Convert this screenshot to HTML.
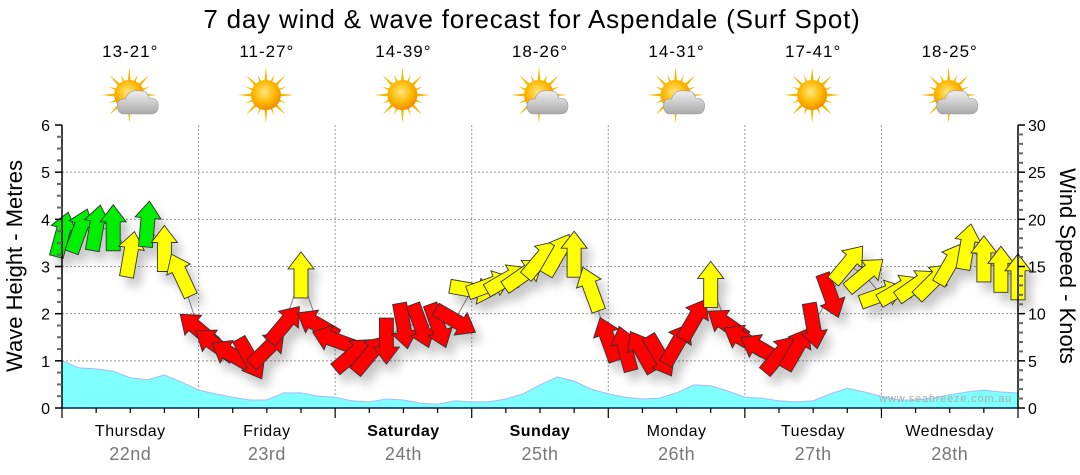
<!DOCTYPE html>
<html><head><meta charset="utf-8"><style>
html,body{margin:0;padding:0;background:#fff;}
svg{display:block;font-family:"Liberation Sans","DejaVu Sans",sans-serif;}
</style></head><body>
<svg id="chart" width="1080" height="475" viewBox="0 0 1080 475" xmlns="http://www.w3.org/2000/svg">
<defs>
<filter id="sh" x="-50%" y="-50%" width="200%" height="200%"><feGaussianBlur in="SourceAlpha" stdDeviation="5"/><feOffset dx="6" dy="9"/><feComponentTransfer><feFuncA type="linear" slope="0.22"/></feComponentTransfer><feMerge><feMergeNode/><feMergeNode in="SourceGraphic"/></feMerge></filter>
<radialGradient id="sun" cx="45%" cy="40%" r="60%"><stop offset="0" stop-color="#ffe680"/><stop offset="0.6" stop-color="#ffb800"/><stop offset="1" stop-color="#f08c00"/></radialGradient>
<linearGradient id="cloud" x1="0" y1="0" x2="0" y2="1"><stop offset="0" stop-color="#f0f0f0"/><stop offset="1" stop-color="#a8a8a8"/></linearGradient>
</defs>
<text x="532" y="28" font-size="26" text-anchor="middle" fill="#000" letter-spacing="0.8">7 day wind &amp; wave forecast for Aspendale (Surf Spot)</text>
<g id="plot"></g>
</svg>
<script>
const days = ["Thursday","Friday","Saturday","Sunday","Monday","Tuesday","Wednesday"];
const dates = ["22nd","23rd","24th","25th","26th","27th","28th"];
const temps = ["13-21°","11-27°","14-39°","18-26°","14-31°","17-41°","18-25°"];
const cloudy = [1,0,0,1,1,0,1];
const boldDays = [0,0,1,1,0,0,0];
const leftTicks = [0,1,2,3,4,5,6];
const rightTicks = [0,5,10,15,20,25,30];
// 3-hourly series (57 points)
const waveHeight = [1.0,0.85,0.83,0.78,0.64,0.6,0.7,0.55,0.38,0.3,0.23,0.17,0.17,0.32,0.32,0.25,0.23,0.15,0.13,0.19,0.17,0.1,0.08,0.15,0.13,0.13,0.19,0.3,0.49,0.66,0.57,0.4,0.3,0.23,0.19,0.21,0.32,0.49,0.47,0.36,0.23,0.21,0.15,0.13,0.15,0.3,0.42,0.34,0.25,0.17,0.17,0.21,0.28,0.34,0.38,0.34,0.32];
const windSpeed = [18.3,18.7,19,19,16.2,19.4,16.8,14,8.3,6.7,5.6,5.3,6.2,8.8,14,8.8,7.2,5.6,5.6,7.2,8.8,8.8,8.8,9.3,12.5,13,13.6,14.1,15.7,16.2,16.2,12.5,7.2,6.2,5.9,5.6,6.7,9.3,13,8.8,7.2,6.2,5.6,6.2,8.8,12,15.2,14.1,12,12.5,13,13.4,15.2,17,15.7,14.6,13.8];
const windDir = [15,20,10,0,10,5,0,-25,-50,-55,-60,150,45,40,0,-60,-70,50,40,180,170,160,160,120,100,70,60,55,40,30,0,-20,-20,-15,-30,150,30,30,0,-55,-60,-60,40,30,170,160,40,50,70,60,55,45,30,10,0,0,0];
const windColor = ["g","g","g","g","y","g","y","y","r","r","r","r","r","r","y","r","r","r","r","r","r","r","r","r","y","y","y","y","y","y","y","y","r","r","r","r","r","r","y","r","r","r","r","r","r","r","y","y","y","y","y","y","y","y","y","y","y"];

const NS="http://www.w3.org/2000/svg";
const L=62,R=1018,T=125,B=408;
const N=waveHeight.length;
const xT=i=>L+(R-L)*i/(N-1);
const yM=m=>B-(B-T)*m/6;
const yK=k=>B-(B-T)*k/30;
const plot=document.getElementById('plot');
function mk(tag,attrs,parent){const e=document.createElementNS(NS,tag);for(const k in attrs)e.setAttribute(k,attrs[k]);(parent||plot).appendChild(e);return e;}

for(const t of leftTicks){ if(t===0||t===6) continue;
  const g=mk('line',{x1:L,x2:R,y1:yM(t),y2:yM(t),stroke:'#999','stroke-dasharray':'2,2','stroke-width':1});
  
  
}
for(let d=1;d<7;d++){const x=L+(R-L)*d/7;
  const g=mk('line',{x1:x,x2:x,y1:T,y2:B,stroke:'#999','stroke-dasharray':'2,2','stroke-width':1});
  
  
}
let p='M'+xT(0)+','+B;
for(let i=0;i<N;i++) p+=' L'+xT(i).toFixed(1)+','+yM(waveHeight[i]).toFixed(1);
p+=' L'+xT(N-1)+','+B+' Z';
const wa=mk('path',{d:p,fill:'#80ffff',stroke:'#a8b8ff','stroke-width':1});


const wm=mk('text',{x:1012,y:402,'font-size':11,fill:'#aaa','text-anchor':'end','letter-spacing':'0.8'});
wm.textContent='www.seabreeze.com.au';



let lp='';
for(let i=0;i<N;i++) lp+=(i?' L':'M')+xT(i).toFixed(1)+','+yK(windSpeed[i]).toFixed(1);
const wl=mk('path',{d:lp,fill:'none',stroke:'#888','stroke-width':1});



const cmap={g:'#00ee00',y:'#ffff00',r:'#ff0000'};
const ag=mk('g',{filter:'url(#sh)'});


const shape='M0,-24 L13,-7 L7,-7 L7,22 L-7,22 L-7,-7 L-13,-7 Z';
for(let i=0;i<N;i++){
  const a=mk('path',{d:shape,fill:cmap[windColor[i]],stroke:'#333','stroke-width':0.9,
    transform:'translate('+xT(i).toFixed(1)+','+yK(windSpeed[i]).toFixed(1)+') rotate('+windDir[i]+')'},ag);
  
  
}

const ax=mk('g',{stroke:'#000','stroke-width':1.5});


mk('line',{x1:L,x2:L,y1:T,y2:B},ax);
mk('line',{x1:R,x2:R,y1:T,y2:B},ax);
mk('line',{x1:L,x2:R,y1:B,y2:B,stroke:'#00205a'},ax);
for(let k=0;k<=24;k++){const y=yM(k/4);const big=k%4===0;
  mk('line',{x1:L-(big?7:5),x2:L,y1:y,y2:y,stroke:big?'#000':'#666','stroke-width':big?1.5:2},ax);}
for(let k=0;k<=30;k++){const y=yK(k);const big=k%5===0;
  mk('line',{x1:R,x2:R+(big?7:5),y1:y,y2:y,stroke:big?'#000':'#666','stroke-width':big?1.5:2},ax);}
for(let k=0;k<=28;k++){const x=L+(R-L)*k/28;const big=k%4===0;
  mk('line',{x1:x,x2:x,y1:B,y2:B+(big?10:5),stroke:'#000','stroke-width':1.2},ax);}
for(const t of leftTicks){const e=mk('text',{x:L-12,y:yM(t)+6,'font-size':16,'text-anchor':'end',fill:'#000'});e.textContent=t;
  
  }
for(const t of rightTicks){const e=mk('text',{x:R+10,y:yK(t)+6,'font-size':16,'text-anchor':'start',fill:'#000'});e.textContent=t;
  
  }
const lt=mk('text',{x:0,y:0,'font-size':22,'text-anchor':'middle',fill:'#000',transform:'translate(22,266) rotate(-90)'});
lt.textContent='Wave Height - Metres';


const rt=mk('text',{x:0,y:0,'font-size':22,'text-anchor':'middle',fill:'#000',transform:'translate(1060,266) rotate(90)'});
rt.textContent='Wind Speed - Knots';



for(let d=0;d<7;d++){
  const cx=L+(R-L)*(d+0.5)/7;
  const dl=mk('text',{x:cx,y:436,'font-size':16,'text-anchor':'middle',fill:'#000','font-weight':boldDays[d]?'bold':'normal','letter-spacing':'0.5'});
  dl.textContent=days[d];
  
  
  const dt=mk('text',{x:cx,y:460,'font-size':18,'text-anchor':'middle',fill:'#777','letter-spacing':'0.5'});
  dt.textContent=dates[d];
  
  
  const tt=mk('text',{x:cx,y:57,'font-size':17,'text-anchor':'middle',fill:'#000','letter-spacing':'1'});
  tt.textContent=temps[d];
  
  
  const ic=mk('g',{transform:'translate('+(cx-1)+',95)'});
  
  
  for(let r=0;r<16;r++){const a=r*22.5;const len=r%2?22:28;
    mk('path',{d:'M-3,0 L0,-'+len+' L3,0 Z',fill:'#f5b800',transform:'rotate('+a+')'},ic);}
  mk('circle',{r:15,fill:'url(#sun)'},ic);
  if(cloudy[d]){
    mk('path',{d:'M-4,19 Q-12,19 -12,11 Q-12,3 -4,4 Q-1,-6 10,-4 Q18,-5 20,3 Q29,3 29,11 Q29,19 21,19 Z',fill:'url(#cloud)',stroke:'#999','stroke-width':0.6},ic);
  }
}
</script>
</body></html>
